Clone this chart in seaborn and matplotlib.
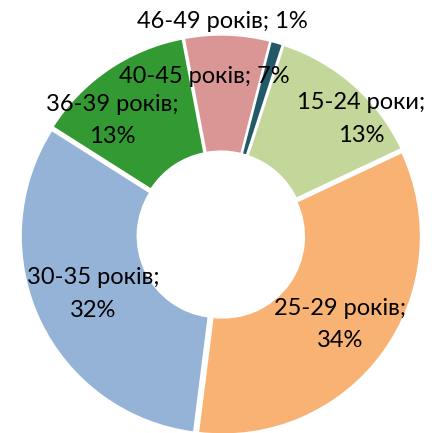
import matplotlib
matplotlib.use("Agg")
import matplotlib.pyplot as plt
import seaborn as sns

# Age groups and their shares (%)
groups = ["15-24 роки", "25-29 років", "30-35 років", "36-39 років", "40-45 років", "46-49 років"]
shares = [13, 34, 32, 13, 7, 1]
colors = ["#c4d79b", "#f8b274", "#95b3d7", "#339933", "#d99694", "#215968"]

# label text: single line or two lines, placed by hand like Excel "best fit"
label_lines = [2, 2, 2, 2, 1, 1]
label_pos = [(0.707, 0.586), (0.60, -0.45), (-0.646, -0.298),
             (-0.55, 0.576), (-0.083, 0.80), (0.005, 1.076)]

sns.set_theme(style="white")
plt.rcParams['font.family'] = ['Lato', 'DejaVu Sans']

fig = plt.figure(figsize=(4.32, 4.33), dpi=100)
ax = fig.add_axes([0, 0, 1, 1])

wedges, _ = ax.pie(shares, colors=colors, startangle=72, counterclock=False,
                   explode=[0.012] * len(shares),
                   wedgeprops=dict(width=0.59, edgecolor="white", linewidth=1.5))

for g, s, n, (x, y) in zip(groups, shares, label_lines, label_pos):
    sep = "\n" if n == 2 else " "
    ax.text(x, y, f"{g};{sep}{s}%", ha="center", va="center",
            fontsize=17, color="black", linespacing=1.65)

ax.set_xlim(-1.116, 1.066)
ax.set_ylim(-1.0, 1.187)
ax.set_aspect("equal")
ax.axis("off")

plt.savefig("out.png", dpi=100)
